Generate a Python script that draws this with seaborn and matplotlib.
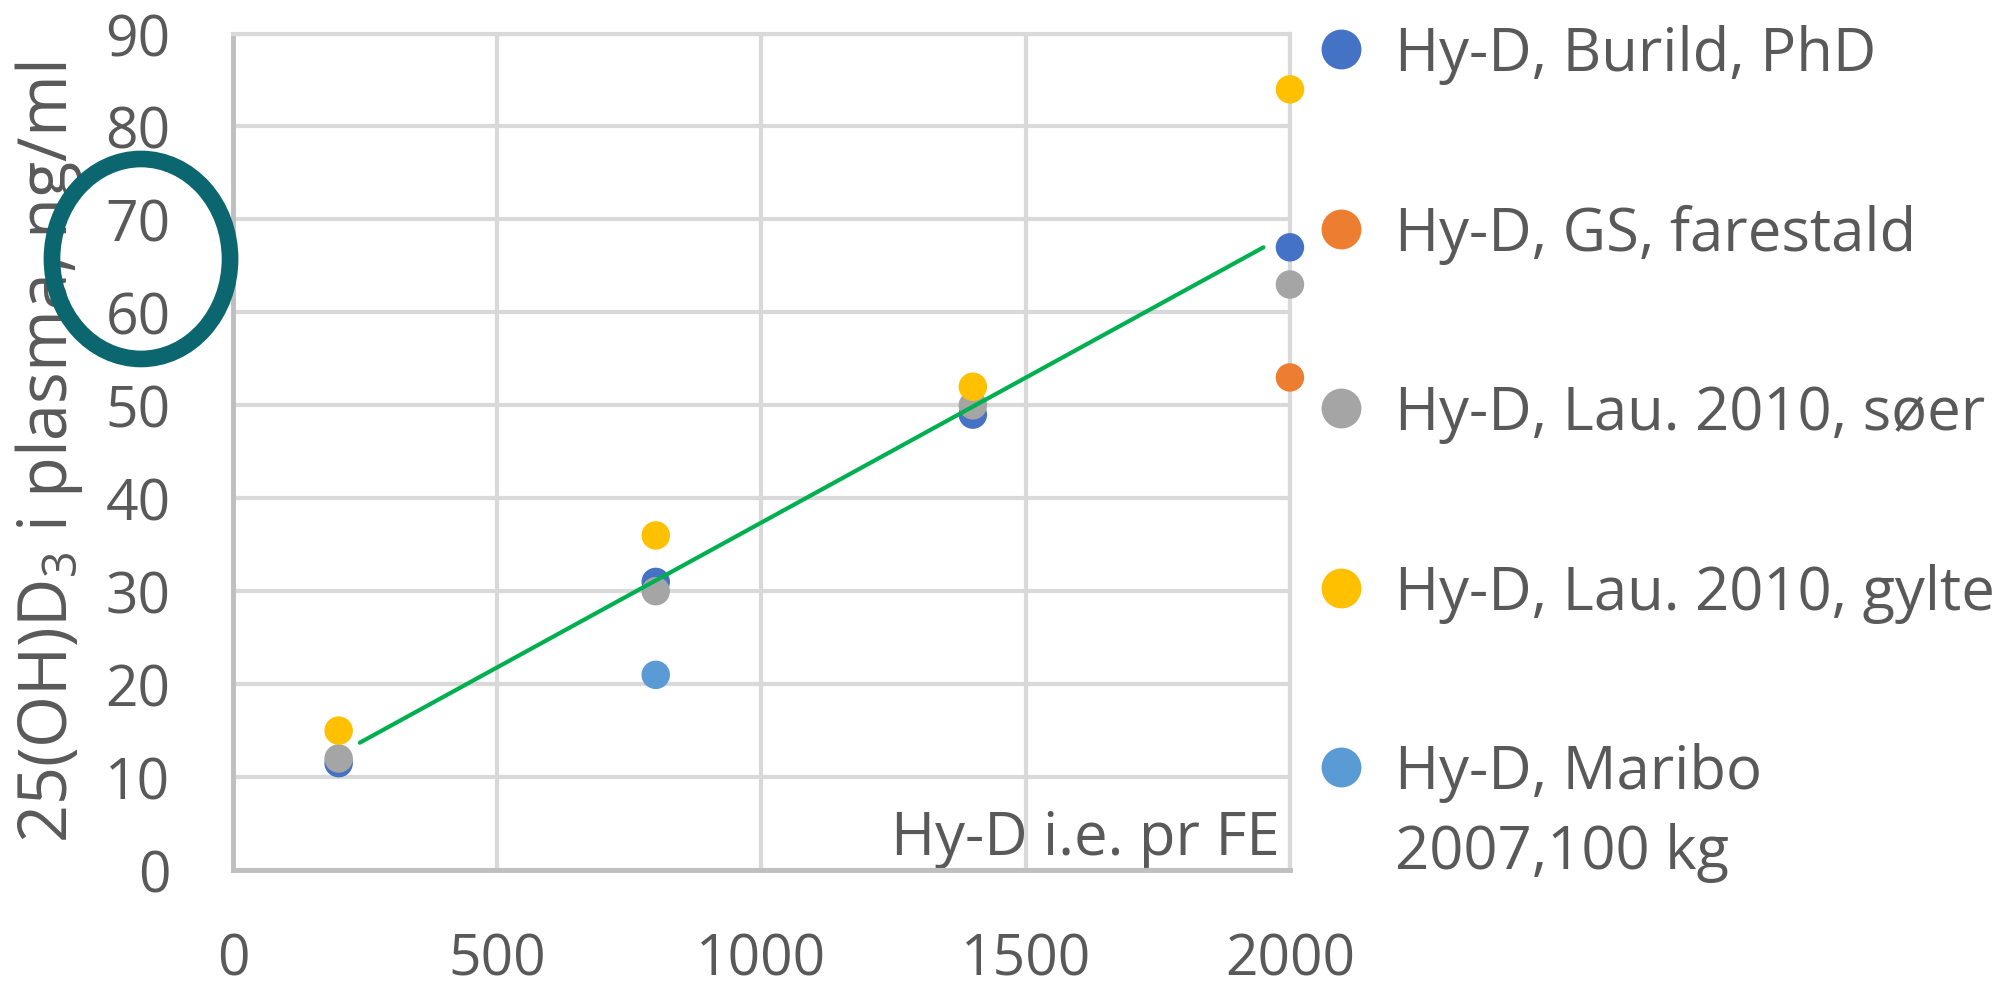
import pandas as pd
import matplotlib
matplotlib.use("Agg")
import matplotlib.pyplot as plt
from matplotlib.patches import Ellipse
import seaborn as sns

# values: dose (Hy-D i.e. pr FE) vs plasma level
burild_x = [200, 800, 1400, 2000]
burild_y = [11.5, 31, 49, 67]
gs_x = [2000]
gs_y = [53]
soer_x = [200, 800, 1400, 2000]
soer_y = [12, 30, 50, 63]
gylte_x = [200, 800, 1400, 2000]
gylte_y = [15, 36, 52, 84]
maribo_x = [800]
maribo_y = [21]

series = ["Hy-D, Burild, PhD", "Hy-D, GS, farestald", "Hy-D, Lau. 2010, søer",
          "Hy-D, Lau. 2010, gylte", "Hy-D, Maribo"]
colors = ["#4472C4", "#ED7D31", "#A5A5A5", "#FFC000", "#5B9BD5"]

# hand-drawn trend line end points
trend_x = [240, 1950]
trend_y = [13.7, 67]

x_ticks = [0, 500, 1000, 1500, 2000]
y_ticks = [0, 10, 20, 30, 40, 50, 60, 70, 80, 90]

frames = []
for name, xs, ys in zip(series,
                        [burild_x, gs_x, soer_x, gylte_x, maribo_x],
                        [burild_y, gs_y, soer_y, gylte_y, maribo_y]):
    frames.append(pd.DataFrame({"dose": xs, "plasma": ys, "serie": name}))
df = pd.concat(frames, ignore_index=True)

sns.set_theme(style="white")
plt.rcParams["font.family"] = ["Open Sans", "DejaVu Sans"]
plt.rcParams["mathtext.fontset"] = "custom"
plt.rcParams["mathtext.rm"] = "Open Sans"
plt.rcParams["mathtext.it"] = "Open Sans"
txt = "#595959"
fs = 43

fig = plt.figure(figsize=(20.03, 9.87), dpi=100)
ax = fig.add_axes([0.1163, 0.1175, 0.5277, 0.8475])

sns.scatterplot(data=df, x="dose", y="plasma", hue="serie", hue_order=series,
                palette=colors, s=420, edgecolor="none", linewidth=0, ax=ax,
                zorder=3, clip_on=False)
ax.plot(trend_x, trend_y, color="#00B050", lw=3, zorder=4)

ax.set_xlim(0, 2000)
ax.set_ylim(0, 90)
ax.set_xticks(x_ticks)
ax.set_yticks(y_ticks)
ax.grid(True, color="#D9D9D9", lw=3)
ax.set_axisbelow(True)
for side in ["top", "right"]:
    ax.spines[side].set_color("#D9D9D9")
    ax.spines[side].set_linewidth(3)
for side in ["left", "bottom"]:
    ax.spines[side].set_color("#BFBFBF")
    ax.spines[side].set_linewidth(3.5)
ax.tick_params(labelsize=41, colors=txt, length=0)
ax.tick_params(axis="x", pad=44)
ax.tick_params(axis="y", pad=45)

ax.set_xlabel("Hy-D i.e. pr FE", fontsize=fs, color=txt, ha="right", va="bottom")
ax.xaxis.set_label_coords(0.99, 0.003)
ax.set_ylabel("25(OH)D$_3$ i plasma, ng/ml", fontsize=48, color=txt)
ax.yaxis.set_label_coords(-0.14, 0.50)

sns.move_legend(ax, "upper left", bbox_to_anchor=(1.026, 1.011), frameon=False,
                title=None, fontsize=fs, labelcolor=txt, labelspacing=2.0,
                handlelength=0.8, handletextpad=0.5, borderpad=0, borderaxespad=0,
                markerscale=1.4)
leg = ax.get_legend()
ax.annotate("2007,100 kg", xy=(0, 0), xycoords=leg.get_texts()[-1],
            xytext=(0, -80), textcoords="offset pixels", ha="left", va="bottom",
            fontsize=fs, color=txt, annotation_clip=False, zorder=10)

fig.add_artist(Ellipse((0.0704, 0.7366), 0.0889, 0.2026, transform=fig.transFigure,
                       fill=False, edgecolor="#0B6670", lw=12, zorder=10))

fig.savefig("out.png", dpi=100)
